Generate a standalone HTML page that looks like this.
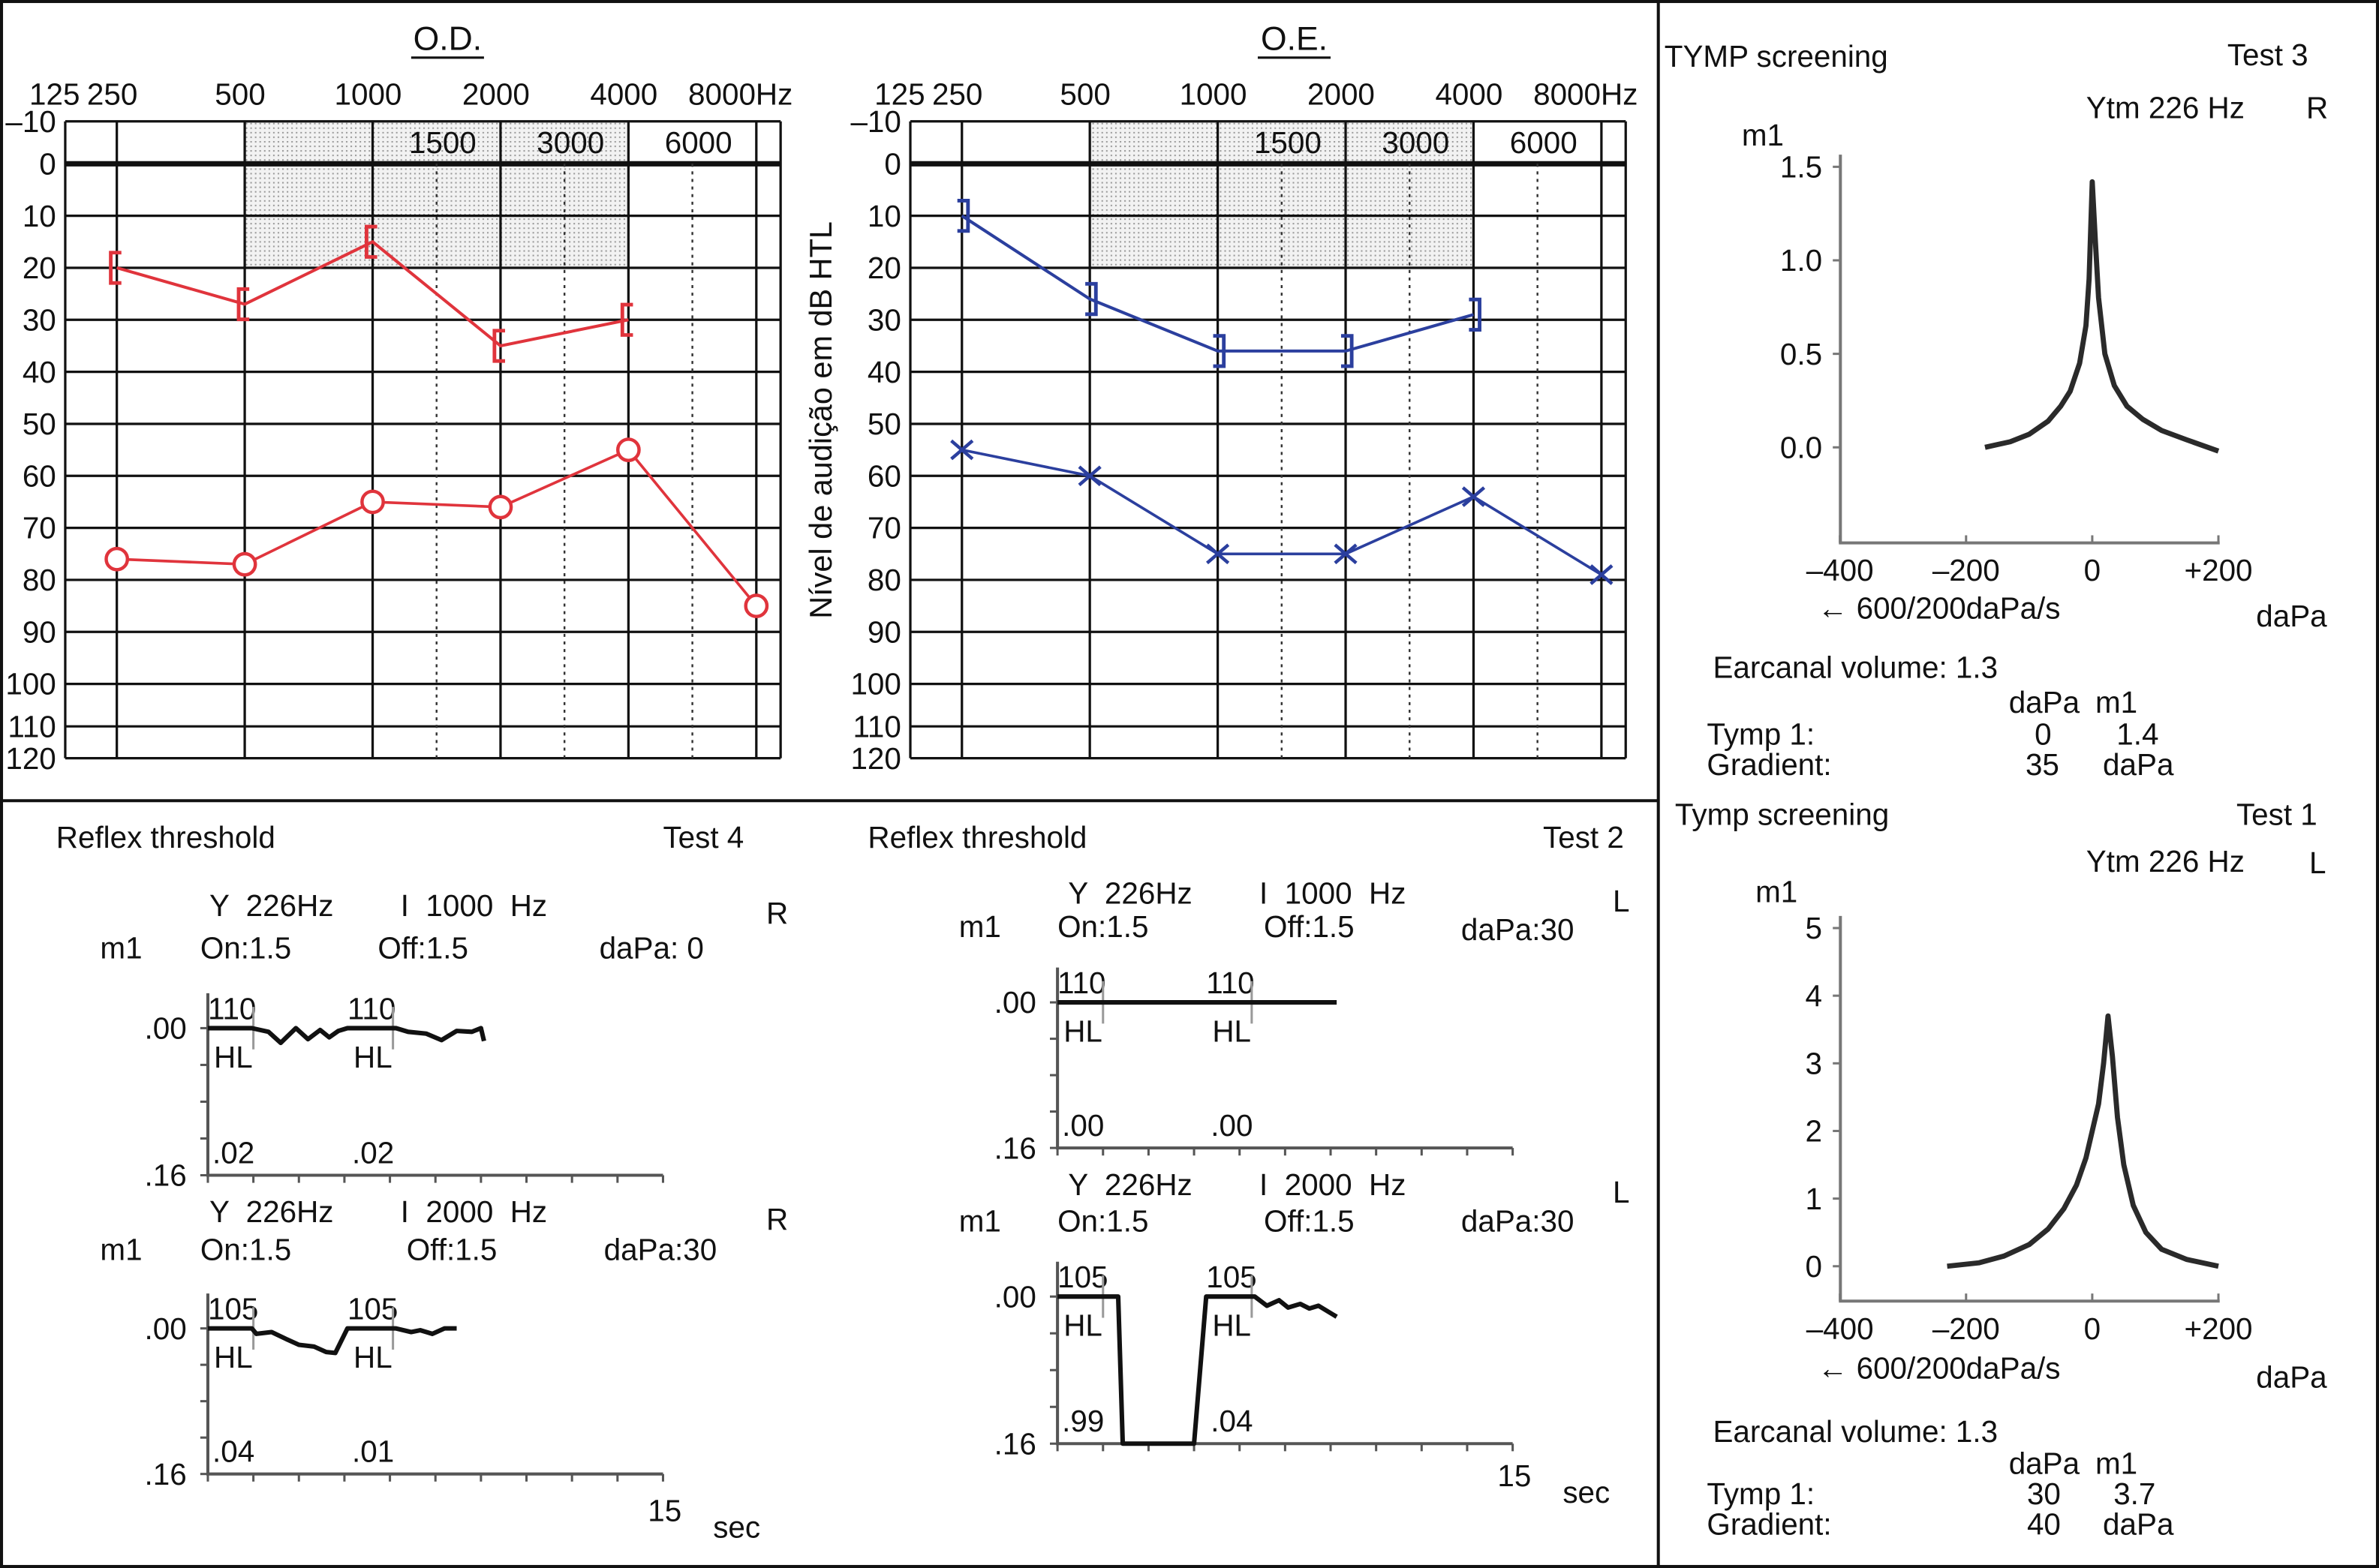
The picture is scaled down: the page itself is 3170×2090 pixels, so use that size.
<!DOCTYPE html>
<html><head><meta charset="utf-8"><style>
html,body{margin:0;padding:0;background:#fff;}
svg{display:block;font-family:"Liberation Sans",Arial,sans-serif;}
text{fill:#111;white-space:pre;}
</style></head><body>
<svg id="fig" width="3170" height="2090" viewBox="0 0 1568 1034" preserveAspectRatio="none" xmlns="http://www.w3.org/2000/svg" xml:space="preserve">
<defs>
<pattern id="dots" width="3" height="3" patternUnits="userSpaceOnUse"><rect width="3" height="3" fill="#f2f2f2"/><rect width="1" height="1" fill="#999"/></pattern>
</defs>
<rect x="1" y="1" width="1566" height="1032" fill="none" stroke="#111" stroke-width="2"/>
<line x1="1093" y1="0" x2="1093" y2="1034" stroke="#111" stroke-width="2"/>
<line x1="0" y1="528" x2="1093" y2="528" stroke="#111" stroke-width="2"/>
<g id="od"></g>
<g id="oe"></g>
<text x="548" y="277" font-size="20.5" text-anchor="middle" transform="rotate(-90 548 277)">Nível de audição em dB HTL</text>
<g id="tymp3">
<text x="1097" y="44" font-size="20">TYMP screening</text>
<text x="1468" y="43" font-size="20">Test 3</text>
<text x="1375" y="78" font-size="20">Ytm 226 Hz</text>
<text x="1520" y="78" font-size="20">R</text>
<text x="1148" y="96" font-size="20">m1</text>
<text x="1198" y="408" font-size="20">← 600/200daPa/s</text>
<text x="1487" y="413" font-size="20">daPa</text>
<text x="1129" y="447" font-size="20">Earcanal volume: 1.3</text>
<text x="1324" y="470" font-size="20">daPa</text>
<text x="1381" y="470" font-size="20">m1</text>
<text x="1125" y="491" font-size="20">Tymp 1:</text>
<text x="1341" y="491" font-size="20">0</text>
<text x="1395" y="491" font-size="20">1.4</text>
<text x="1125" y="511" font-size="20">Gradient:</text>
<text x="1335" y="511" font-size="20">35</text>
<text x="1386" y="511" font-size="20">daPa</text>
</g>
<g id="tymp1">
<text x="1104" y="544" font-size="20">Tymp screening</text>
<text x="1474" y="544" font-size="20">Test 1</text>
<text x="1375" y="575" font-size="20">Ytm 226 Hz</text>
<text x="1522" y="576" font-size="20">L</text>
<text x="1157" y="595" font-size="20">m1</text>
<text x="1198" y="909" font-size="20">← 600/200daPa/s</text>
<text x="1487" y="915" font-size="20">daPa</text>
<text x="1129" y="951" font-size="20">Earcanal volume: 1.3</text>
<text x="1324" y="972" font-size="20">daPa</text>
<text x="1381" y="972" font-size="20">m1</text>
<text x="1125" y="992" font-size="20">Tymp 1:</text>
<text x="1336" y="992" font-size="20">30</text>
<text x="1393" y="992" font-size="20">3.7</text>
<text x="1125" y="1012" font-size="20">Gradient:</text>
<text x="1336" y="1012" font-size="20">40</text>
<text x="1386" y="1012" font-size="20">daPa</text>
</g>
<g id="refl">
<text x="37" y="559" font-size="20">Reflex threshold</text>
<text x="437" y="559" font-size="20">Test 4</text>
<text x="572" y="559" font-size="20">Reflex threshold</text>
<text x="1017" y="559" font-size="20">Test 2</text>
<text x="427" y="1003" font-size="20">15</text>
<text x="470" y="1014" font-size="20">sec</text>
<text x="987" y="980" font-size="20">15</text>
<text x="1030" y="991" font-size="20">sec</text>
</g>
</svg>
<script>
// ---------- Audiogram data ----------
const freqLabels = ['250','500','1000','2000','4000','8000'];
const freqValues = [250,500,1000,2000,4000,8000];
const dbTicks = [-10,0,10,20,30,40,50,60,70,80,90,100,110,120];
const odBoneDb = [20,27,15,35,30];
const odAirDb = [76,77,65,66,55,85];
const oeBoneDb = [10,26,36,36,29];
const oeAirDb = [55,60,75,75,64,79];
// ---------- Tympanogram data ----------
const t3Pressure = [-170,-130,-100,-70,-50,-35,-20,-10,-5,0,5,10,20,35,55,80,110,150,200];
const t3Admit = [0.0,0.03,0.07,0.14,0.22,0.3,0.45,0.65,0.9,1.42,1.1,0.8,0.5,0.33,0.22,0.15,0.09,0.04,-0.02];
const t1Pressure = [-230,-180,-140,-100,-70,-45,-25,-10,0,10,18,25,32,40,50,65,85,110,150,200];
const t1Admit = [0.0,0.05,0.15,0.32,0.55,0.85,1.2,1.6,2.0,2.4,3.0,3.7,3.1,2.2,1.5,0.9,0.5,0.25,0.1,0.0];
const t3Ticks = ['1.5','1.0','0.5','0.0'];
const t3TickVals = [1.5,1.0,0.5,0.0];
const t1TickVals = [5,4,3,2,1,0];
const pressTicks = [-400,-200,0,200];
const pressLabels = ['–400','–200','0','+200'];
// ---------- Reflex data (sec, m1 deviation) ----------
const r1Time = [0,1.45,2.0,2.4,2.9,3.3,3.7,4.0,4.3,4.6,6.2,6.6,7.2,7.7,8.2,8.7,9.0,9.1];
const r1Val = [0,0,0.004,0.016,0.0,0.012,0.002,0.01,0.003,0,0,0.004,0.006,0.013,0.003,0.004,0,0.014];
const r2Time = [0,1.45,1.6,2.1,2.6,3.0,3.5,3.9,4.2,4.6,6.2,6.7,7.0,7.4,7.8,8.2];
const r2Val = [0,0,0.006,0.004,0.012,0.018,0.02,0.026,0.027,0,0,0.004,0.002,0.006,0,0];
const r3Time = [0,9.2];
const r3Val = [0,0];
const r4Time = [0,2.0,2.15,4.5,4.9,6.5,6.9,7.3,7.6,8.0,8.3,8.6,9.2];
const r4Val = [0,0,0.16,0.16,0,0,0.01,0.004,0.012,0.008,0.013,0.01,0.022];

const NS='http://www.w3.org/2000/svg';
function mk(tag, attrs, parent){const e=document.createElementNS(NS,tag);for(const k in attrs)e.setAttribute(k,attrs[k]);parent.appendChild(e);return e;}
function txt(parent,x,y,s,size,anchor){const t=mk('text',{x:x,y:y,'font-size':size||20,'text-anchor':anchor||'start'},parent);t.textContent=s;return t;}

function audiogram(gid, x250, title, titleX, bone, air, color, boneLeft, airType){
  const g=document.getElementById(gid);
  const oct=84.3;
  const xf=f=>x250+oct*Math.log2(f/250);
  const yd=d=>d<0?108+d*2.8:(d<=100?108+d*3.43:(d<=110?451+(d-100)*2.8:479+(d-110)*2.1));
  const L=x250-34, R=xf(8000)+16;
  const sh=mk('rect',{x:xf(500),y:yd(-10),width:xf(4000)-xf(500),height:yd(20)-yd(-10),fill:'url(#dots)'},g);
  
  
  dbTicks.forEach(d=>{
    const ln=mk('line',{x1:L,x2:R,y1:yd(d),y2:yd(d),stroke:'#111','stroke-width':d===0?3.5:1.6},g);
    
    
    const t=txt(g,L-6,yd(d)+7,d<0?'–10':String(d),20,'end');
    
    
  });
  [L,R].forEach(x=>{const ln=mk('line',{x1:x,x2:x,y1:yd(-10),y2:yd(120),stroke:'#111','stroke-width':1.6},g);
    
    });
  freqValues.forEach((f,i)=>{
    const ln=mk('line',{x1:xf(f),x2:xf(f),y1:yd(-10),y2:yd(120),stroke:'#111','stroke-width':1.6},g);
    
    
  });
  [[1000,'1500'],[2000,'3000'],[4000,'6000']].forEach(([f,l])=>{
    const xm=xf(f)+oct/2;
    const ln=mk('line',{x1:xm,x2:xm,y1:yd(0),y2:yd(120),stroke:'#333','stroke-width':1.2,'stroke-dasharray':'2 3'},g);
    
    
    const t=txt(g,xm+4,yd(-10)+21,l,20,'middle');
    
    
  });
  const t125=txt(g,x250-41,69,'125',20,'middle');
  
  
  freqLabels.forEach((l,i)=>{
    let t;
    if(i===5){t=txt(g,xf(freqValues[i])+24,69,l+'Hz',20,'end');}
    else{t=txt(g,xf(freqValues[i])-3,69,l,20,'middle');}
    
    
  });
  const tt=txt(g,titleX,33,title,22,'middle');
  
  
  const ul=mk('line',{x1:titleX-24,x2:titleX+24,y1:38,y2:38,stroke:'#111','stroke-width':1.5},g);
  
  
  const bp=bone.map((d,i)=>xf(freqValues[i])+','+yd(d)).join(' ');
  const bl=mk('polyline',{points:bp,fill:'none',stroke:color,'stroke-width':2},g);
  
  
  bone.forEach((d,i)=>{
    const x=xf(freqValues[i]),y=yd(d);const s=boneLeft?1:-1;
    const p=mk('path',{d:`M${x+s*3},${y-10} h${-s*7} v20 h${s*7}`,fill:'none',stroke:color,'stroke-width':2.4},g);
    
    
  });
  const ap=air.map((d,i)=>xf(freqValues[i])+','+yd(d)).join(' ');
  const al=mk('polyline',{points:ap,fill:'none',stroke:color,'stroke-width':1.8},g);
  
  
  air.forEach((d,i)=>{
    const x=xf(freqValues[i]),y=yd(d);let m;
    if(airType==='o'){m=mk('circle',{cx:x,cy:y,r:7,fill:'#fff',stroke:color,'stroke-width':2.2},g);}
    else{m=mk('path',{d:`M${x-7},${y-6} L${x+7},${y+6} M${x-7},${y+6} L${x+7},${y-6}`,stroke:color,'stroke-width':2.2},g);}
    
    
  });
}
audiogram('od',77,'O.D.',295,odBoneDb,odAirDb,'#e0343c',true,'o');
audiogram('oe',634,'O.E.',853,oeBoneDb,oeAirDb,'#2b3f9e',false,'x');

function tymp(gid, y0, yTop, vTop, tickVals, tickLabels, press, admit, axisBottom){
  const g=document.getElementById(gid);
  const xp=p=>1379+p*0.4158;
  const yv=v=>y0-(v/vTop)*(y0-yTop);
  const ax=mk('path',{d:`M1213,${yTop-8} V${axisBottom} H1463`,fill:'none',stroke:'#777','stroke-width':2},g);
  
  
  tickVals.forEach((v,i)=>{
    const t=txt(g,1201,yv(v)+7,tickLabels[i],20,'end');
    
    
    const tk=mk('line',{x1:1208,x2:1213,y1:yv(v),y2:yv(v),stroke:'#777','stroke-width':1.5},g);
    
    
  });
  pressTicks.forEach((p,i)=>{
    const t=txt(g,xp(p),axisBottom+25,pressLabels[i],20,'middle');
    
    
    const tk=mk('line',{x1:xp(p),x2:xp(p),y1:axisBottom,y2:axisBottom-5,stroke:'#777','stroke-width':1.5},g);
    
    
  });
  const pts=press.map((p,i)=>xp(p)+','+yv(admit[i])).join(' ');
  const c=mk('polyline',{points:pts,fill:'none',stroke:'#2a2a2a','stroke-width':3.4,'stroke-linejoin':'round'},g);
  
  
}
tymp('tymp3',295,110,1.5,t3TickVals,t3Ticks,t3Pressure,t3Admit,358);
tymp('tymp1',835,612,5,t1TickVals,t1TickVals.map(String),t1Pressure,t1Admit,858);

function reflex(ax, y0, yLow, time, val, labs, hdr, name){
  const g=document.getElementById('refl');
  const sub=mk('g',{},g);
  
  
  const xt=t=>ax+t*20;
  const yv=v=>y0+v*(yLow-y0)/0.16;
  [[hdr.yx,hdr.y1,'Y  226Hz'],[hdr.ix,hdr.y1,'I  '+hdr.freq+'  Hz'],[hdr.rx,hdr.y1+5,hdr.ear],
   [hdr.mx,hdr.y2,'m1'],[hdr.onx,hdr.y2,'On:1.5'],[hdr.offx,hdr.y2,'Off:1.5'],[hdr.dx,hdr.y2+hdr.dy,hdr.dapa]].forEach(a=>{
    const t=txt(sub,a[0],a[1],a[2],20);
    
    
  });
  const a=mk('path',{d:`M${ax},${y0-23} V${yLow} H${ax+300}`,fill:'none',stroke:'#555','stroke-width':2},sub);
  
  
  for(let k=0;k<=10;k++){
    const tk=mk('line',{x1:xt(k*1.5),x2:xt(k*1.5),y1:yLow,y2:yLow+5,stroke:'#555','stroke-width':1.5},sub);
    
    
  }
  for(let k=0;k<=4;k++){
    const tk=mk('line',{x1:ax-5,x2:ax,y1:yv(k*0.04),y2:yv(k*0.04),stroke:'#555','stroke-width':1.5},sub);
    
    
  }
  const t0=txt(sub,ax-14,y0+7,'.00',20,'end');
  const t1=txt(sub,ax-14,yLow+7,'.16',20,'end');
  [0,1].forEach(j=>{
    const bx=ax+j*(hdr.sec2)*20;
    const a1=txt(sub,bx,y0-6,labs[0],20);
    const a2=txt(sub,bx+4,y0+26,'HL',20);
    const a3=txt(sub,bx+3,yLow-8,labs[1+j],20);
    const mkx=xt(j*hdr.sec2+1.5);
    const m=mk('line',{x1:mkx,x2:mkx,y1:y0-14,y2:y0+14,stroke:'#999','stroke-width':1.5},sub);
    
  });
  const pts=time.map((t,i)=>xt(t)+','+yv(val[i])).join(' ');
  const tr=mk('polyline',{points:pts,fill:'none',stroke:'#111','stroke-width':3,'stroke-linejoin':'round'},sub);
  
  
}
reflex(137,678,775,r1Time,r1Val,['110','.02','.02'],{yx:138,ix:264,rx:505,y1:604,mx:66,onx:132,offx:249,dx:395,dy:0,y2:632,freq:'1000',ear:'R',dapa:'daPa: 0',sec2:4.6},'reflex-right-1000');
reflex(137,876,972,r2Time,r2Val,['105','.04','.01'],{yx:138,ix:264,rx:505,y1:806,mx:66,onx:132,offx:268,dx:398,dy:0,y2:831,freq:'2000',ear:'R',dapa:'daPa:30',sec2:4.6},'reflex-right-2000');
reflex(697,661,757,r3Time,r3Val,['110','.00','.00'],{yx:704,ix:830,rx:1063,y1:596,mx:632,onx:697,offx:833,dx:963,dy:2,y2:618,freq:'1000',ear:'L',dapa:'daPa:30',sec2:4.9},'reflex-left-1000');
reflex(697,855,952,r4Time,r4Val,['105','.99','.04'],{yx:704,ix:830,rx:1063,y1:788,mx:632,onx:697,offx:833,dx:963,dy:0,y2:812,freq:'2000',ear:'L',dapa:'daPa:30',sec2:4.9},'reflex-left-2000');
</script>
</body></html>
